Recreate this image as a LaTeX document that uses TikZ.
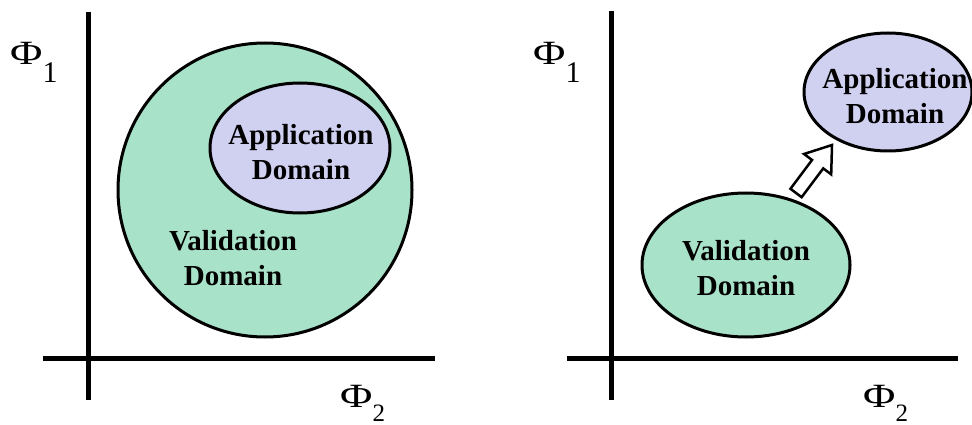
\documentclass[tikz,border=0pt]{standalone}
\usepackage{fontspec}
\setmainfont{Liberation Serif}
\definecolor{valgreen}{RGB}{168,226,200}
\definecolor{applav}{RGB}{208,208,240}
\tikzset{
  axisline/.style={line width=5pt},
  domstyle/.style={draw=black, line width=3pt},
  lbl/.style={font=\fontsize{29}{35}\selectfont\bfseries, align=center, inner sep=0pt},
  philbl/.style={anchor=base west, inner sep=0pt, font=\fontsize{34}{34}\selectfont}
}
\newcommand{\bigphi}{\scalebox{1.3}[1]{Φ}}
\newcommand{\phisubA}[1]{\bigphi\raisebox{-18pt}{\fontsize{30}{30}\selectfont #1}}
\newcommand{\phisubB}[1]{\bigphi\raisebox{-14pt}{\fontsize{25}{25}\selectfont #1}}
\begin{document}
\begin{tikzpicture}[x=1pt,y=-1pt]
\useasboundingbox (0,0) rectangle (972,425);
% ---------- left panel ----------
\draw[axisline] (88,12) -- (88,400);
\draw[axisline] (43,358) -- (435,358);
\node[philbl] (phiA) at (10,65) {\phisubA{1}};
\node[philbl] (phiB) at (340,407) {\phisubB{2}};
\filldraw[domstyle, fill=valgreen] (265,190) circle (147);
\filldraw[domstyle, fill=applav] (300,148) ellipse [x radius=90, y radius=65];
\node[lbl] (appA) at (301,152) {Application\\Domain};
\node[lbl] (valA) at (233,258) {Validation\\Domain};
% ---------- right panel ----------
\draw[axisline] (611,11) -- (611,400);
\draw[axisline] (567,358) -- (958,358);
\node[philbl] (phiC) at (533,65) {\phisubA{1}};
\node[philbl] (phiD) at (863,407) {\phisubB{2}};
\filldraw[domstyle, fill=valgreen] (746,265) ellipse [x radius=104, y radius=72];
\filldraw[domstyle, fill=applav] (888,92) ellipse [x radius=84, y radius=59];
\node[lbl] (valB) at (746,268) {Validation\\Domain};
\node[lbl] (appB) at (895,96) {Application\\Domain};
% block arrow
\coordinate (p1) at (801.6,197.2);
\coordinate (p2) at (790.4,188.8);
\coordinate (p3) at (812,160);
\coordinate (p4) at (804,154);
\coordinate (tip) at (832,145);
\coordinate (p5) at (831.2,174.4);
\coordinate (p6) at (823.2,168.4);
\filldraw[fill=white, draw=black, line width=2.5pt, line join=miter]
  (p2) -- (p3) -- (p4) -- (tip) -- (p5) -- (p6) -- (p1) -- cycle;
\end{tikzpicture}
\end{document}
